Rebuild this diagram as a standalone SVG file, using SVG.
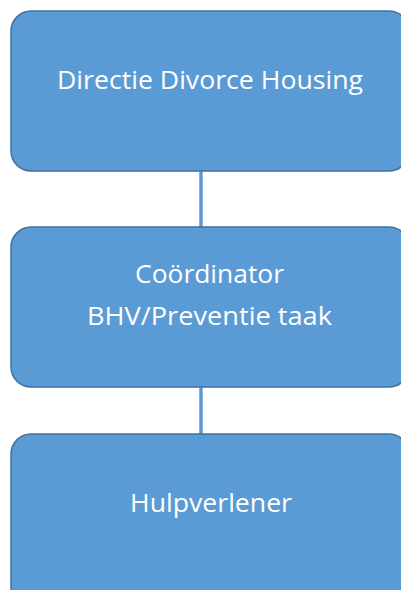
<svg xmlns="http://www.w3.org/2000/svg" width="401" height="590" viewBox="0 0 401 590">
<style>
.box{fill:#5B9BD5;stroke:#41719C;stroke-width:1.5}
.lbl{font-family:"Open Sans","Noto Sans",sans-serif;font-size:25px;fill:#FFFFFF;text-anchor:middle}
.con{stroke:#5B9BD5;stroke-width:3.5;fill:none}
</style>
<rect width="401" height="590" fill="#FFFFFF"/>
<g id="connectors">
<line class="con" x1="201" y1="171" x2="201" y2="227"/>
<line class="con" x1="201" y1="387" x2="201" y2="434"/>
</g>
<g id="node-directie">
<rect class="box" x="11" y="11" width="398" height="160" rx="20" ry="20"/>
<text class="lbl" x="210" y="89" textLength="306" lengthAdjust="spacingAndGlyphs">Directie Divorce Housing</text>
</g>
<g id="node-coordinator">
<rect class="box" x="11" y="227" width="398" height="160" rx="20" ry="20"/>
<text class="lbl" x="209.5" y="283" textLength="149" lengthAdjust="spacingAndGlyphs">Coördinator</text>
<text class="lbl" x="209.5" y="325" textLength="245" lengthAdjust="spacingAndGlyphs">BHV/Preventie taak</text>
</g>
<g id="node-hulpverlener">
<rect class="box" x="11" y="434" width="398" height="180" rx="20" ry="20"/>
<text class="lbl" x="211" y="512" textLength="162" lengthAdjust="spacingAndGlyphs">Hulpverlener</text>
</g>
</svg>
